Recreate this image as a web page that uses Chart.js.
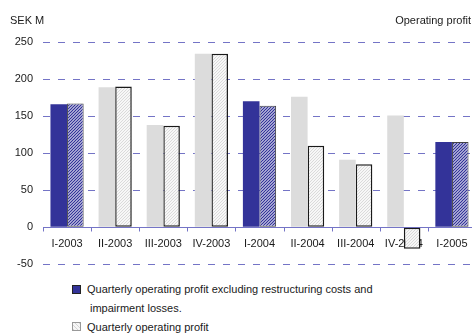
<!DOCTYPE html>
<html>
<head>
<meta charset="utf-8">
<script src="https://cdn.jsdelivr.net/npm/chart.js@4.4.1/dist/chart.umd.min.js"></script>
<style>
  html, body { margin: 0; padding: 0; background: #fff; overflow: hidden; }
  body { width: 472px; height: 333px; position: relative; font-family: Arial, "Liberation Sans", sans-serif; color: #1a1a1a; }
  #wrap { position: absolute; left: 0; top: 0; width: 476px; height: 281px; }
  .txt { position: absolute; font-size: 11px; line-height: 13px; white-space: nowrap; }
  .sw { position: absolute; width: 9px; height: 9px; box-sizing: border-box; }
</style>
</head>
<body>
<div id="wrap"><canvas id="chart" width="476" height="281"></canvas></div>
<div class="txt" style="left:10px; top:14px;">SEK M</div>
<div class="txt" style="right:1px; top:14px;">Operating profit</div>

<div class="sw" style="left:72px; top:285px; background:#333399; border:1px solid #222;"></div>
<div class="txt" style="left:87px; top:283px;">Quarterly operating profit excluding restructuring costs and</div>
<div class="txt" style="left:90px; top:302px;">impairment losses.</div>
<div class="sw" style="left:72px; top:322px; border:1px solid #999; background:repeating-linear-gradient(45deg, #d4d4d4 0 1px, #f6f6f6 1px 3px);"></div>
<div class="txt" style="left:87px; top:321px;">Quarterly operating profit</div>

<script>
// quarters on the x axis
const quarters = ["I-2003", "II-2003", "III-2003", "IV-2003", "I-2004", "II-2004", "III-2004", "IV-2004", "I-2005"];
// excluding restructuring costs and impairment losses (left bar)
const profitExcl = [166, 189, 138, 234, 170, 176, 91, 151, 115];
// reported operating profit (right bar)
const profitReported = [167, 190, 137, 234, 164, 110, 85, -29, 115];
// quarters drawn in the dark blue scheme
const blueQuarters = ["I-2003", "I-2004", "I-2005"];
// y ticks
const yMin = -50, yMax = 250, yStep = 50;

const BLUE = "#333399";
const GREY = "#dcdcdc";
const GRID = "#7474c6";

function hatch(bg, fg, lw) {
  const c = document.createElement("canvas");
  c.width = 3; c.height = 3;
  const g = c.getContext("2d");
  g.fillStyle = bg;
  g.fillRect(0, 0, 3, 3);
  g.strokeStyle = fg;
  g.lineWidth = lw;
  g.beginPath();
  g.moveTo(-1, 4); g.lineTo(4, -1);
  g.moveTo(-2, 2); g.lineTo(2, -2);
  g.moveTo(1, 5); g.lineTo(5, 1);
  g.stroke();
  return g.createPattern(c, "repeat");
}
const ctx0 = document.getElementById("chart").getContext("2d");
const blueHatch = hatch("#ffffff", BLUE, 1.3);
const greyHatch = hatch("#f7f7f7", "#d6d6d6", 0.9);

const isBlue = quarters.map(q => blueQuarters.includes(q));

//CUSTOM AXIS: zero line, category ticks and labels sit at y = 0
const zeroAxis = {
  id: "zeroAxis",
  beforeDatasetsDraw(chart) {
    const { ctx, chartArea: { left, right }, scales: { x, y } } = chart;
    const y0 = Math.round(y.getPixelForValue(0)) + 0.5;
    const w = (right - left) / quarters.length;
    ctx.save();
    ctx.strokeStyle = GRID;
    ctx.lineWidth = 1;
    ctx.beginPath();
    ctx.moveTo(left, y0);
    ctx.lineTo(right, y0);
    for (let i = 0; i <= quarters.length; i++) {
      const px = Math.round(left + i * w) + 0.5;
      ctx.moveTo(px, y0);
      ctx.lineTo(px, y0 + 4);
    }
    ctx.stroke();
    ctx.fillStyle = "#1a1a1a";
    ctx.font = "11px Arial, 'Liberation Sans'";
    ctx.textAlign = "center";
    ctx.textBaseline = "middle";
    for (let i = 0; i < quarters.length; i++) {
      ctx.fillText(quarters[i], x.getPixelForValue(i), y0 + 16);
    }
    ctx.restore();
  }
};

new Chart(ctx0, {
  type: "bar",
  data: {
    labels: quarters,
    datasets: [
      {
        label: "Quarterly operating profit excluding restructuring costs and impairment losses.",
        data: profitExcl,
        backgroundColor: isBlue.map(b => b ? BLUE : GREY),
        borderWidth: 0,
      },
      {
        label: "Quarterly operating profit",
        data: profitReported,
        backgroundColor: isBlue.map(b => b ? blueHatch : greyHatch),
        borderColor: isBlue.map(b => b ? "#444" : "#1a1a1a"),
        borderWidth: isBlue.map(b => b ? 1 : 1.5),
        borderSkipped: false,
      },
    ],
  },
  options: {
    responsive: false,
    animation: false,
    devicePixelRatio: 1,
    layout: { padding: { top: 42, bottom: 7, left: 0, right: 0 } },
    plugins: { legend: { display: false }, tooltip: { enabled: false } },
    datasets: { bar: { categoryPercentage: 0.69, barPercentage: 1.0 } },
    scales: {
      x: { display: false },
      y: {
        min: yMin,
        max: yMax,
        afterFit(scale) { scale.width = 43; },
        ticks: {
          stepSize: yStep,
          padding: 10,
          color: "#1a1a1a",
          font: { family: "Arial, 'Liberation Sans'", size: 11 },
        },
        grid: { color: GRID, drawTicks: false, lineWidth: 1 },
        border: { display: false, dash: [7, 8] },
      },
    },
  },
  plugins: [zeroAxis],
});
</script>
</body>
</html>
